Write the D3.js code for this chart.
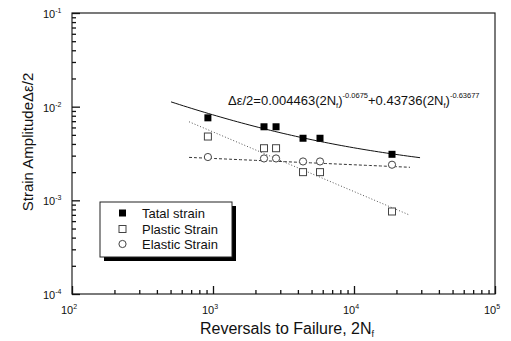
<!DOCTYPE html>
<html>
<head>
<meta charset="utf-8">
<script src="https://cdn.jsdelivr.net/npm/d3@7"></script>
<style>
  body { margin: 0; background: #fff; }
  svg { font-family: "Liberation Sans", Arial, sans-serif; }
</style>
</head>
<body>
<div id="chart"></div>
<script>
// data
var cycles  = [920, 2300, 2800, 4350, 5740, 18600];
var total   = [0.0076, 0.0061, 0.0061, 0.0046, 0.0046, 0.0031];
var plastic = [0.0048, 0.0036, 0.0036, 0.0020, 0.0020, 0.00076];
var elastic = [0.0029, 0.0028, 0.0028, 0.0026, 0.0026, 0.0024];

// fitted equation shown on chart: elastic + plastic parts
var fitCoef = [0.004463, 0.43736];
var fitExp  = [-0.0675, -0.63677];
var totalRange = [504, 29400];
var partRange  = [676, 24950];

var xTicks = [1e2, 1e3, 1e4, 1e5];
var yTicks = [1e-4, 1e-3, 1e-2, 1e-1];
var legendNames = ["Tatal strain", "Plastic Strain", "Elastic Strain"];

function plotChart() {

    var width = 511, height = 341;
    var pLeft = 72, pRight = 495, pTop = 13, pBottom = 294;

    var svg = d3.select("#chart").append("svg")
        .attr("width", width).attr("height", height);

    var x = d3.scaleLog().domain([1e2, 1e5]).range([pLeft, pRight]);
    var y = d3.scaleLog().domain([1e-4, 1e-1]).range([pBottom, pTop]);

    //////// FRAME ////////
    svg.append("rect")
        .attr("x", pLeft).attr("y", pTop)
        .attr("width", pRight - pLeft).attr("height", pBottom - pTop)
        .attr("fill", "none").attr("stroke", "#222").attr("stroke-width", 1.2);

    // minor + major ticks, pointing inward
    var xMinor = x.ticks().filter(function(d) { return xTicks.indexOf(d) < 0; });
    var yMinor = y.ticks().filter(function(d) { return yTicks.indexOf(d) < 0; });

    function noDomain(g) { g.select(".domain").remove(); }

    svg.append("g")
        .attr("transform", "translate(0," + pBottom + ")")
        .call(d3.axisBottom(x).tickValues(xMinor).tickSize(-4).tickFormat(""))
        .call(noDomain);
    svg.append("g")
        .attr("transform", "translate(0," + pBottom + ")")
        .call(d3.axisBottom(x).tickValues(xTicks).tickSize(-8).tickFormat(""))
        .call(noDomain);

    svg.append("g")
        .attr("transform", "translate(" + pLeft + ",0)")
        .call(d3.axisLeft(y).tickValues(yMinor).tickSize(-4).tickFormat(""))
        .call(noDomain);
    svg.append("g")
        .attr("transform", "translate(" + pLeft + ",0)")
        .call(d3.axisLeft(y).tickValues(yTicks).tickSize(-8).tickFormat(""))
        .call(noDomain);

    svg.selectAll(".tick line").attr("stroke", "#111").attr("stroke-width", 1.3);

    // tick labels, power of ten
    var xl = svg.append("g").selectAll("text").data(xTicks).enter().append("text")
        .attr("x", function(d) { return x(d) - 3; })
        .attr("y", 314)
        .attr("text-anchor", "middle")
        .attr("font-size", 11).attr("fill", "#111");
    xl.append("tspan").text("10");
    xl.append("tspan").attr("dy", -5).attr("font-size", 7)
        .text(function(d) { return Math.round(Math.log10(d)); });

    var yl = svg.append("g").selectAll("text").data(yTicks).enter().append("text")
        .attr("x", 43)
        .attr("y", function(d) { return y(d) + 5; })
        .attr("font-size", 11).attr("fill", "#111");
    yl.append("tspan").text("10");
    yl.append("tspan").attr("dy", -5).attr("font-size", 7)
        .text(function(d) { return "-" + Math.round(-Math.log10(d)); });

    // axis titles
    var xt = svg.append("text")
        .attr("x", 287).attr("y", 334)
        .attr("text-anchor", "middle")
        .attr("font-size", 16).attr("fill", "#111");
    xt.append("tspan").text("Reversals to Failure, 2N");
    xt.append("tspan").attr("dy", 3).attr("font-size", 9).text("f");

    svg.append("text")
        .attr("transform", "translate(33,142) rotate(-90)")
        .attr("text-anchor", "middle")
        .attr("font-size", 15).attr("fill", "#111")
        .text("Strain AmplitudeΔε/2");

    //////// FIT CURVES ////////
    function fitPoints(range, parts) {
        var pts = [];
        var a = Math.log10(range[0]), b = Math.log10(range[1]);
        for (var i = 0; i <= 60; i++) {
            var n = Math.pow(10, a + (b - a) * i / 60);
            var v = 0;
            parts.forEach(function(k) { v += fitCoef[k] * Math.pow(n, fitExp[k]); });
            pts.push([n, v]);
        }
        return pts;
    }

    var line = d3.line()
        .x(function(d) { return x(d[0]); })
        .y(function(d) { return y(d[1]); });

    svg.append("path").datum(fitPoints(totalRange, [0, 1]))
        .attr("d", line).attr("fill", "none")
        .attr("stroke", "#111").attr("stroke-width", 1);
    svg.append("path").datum(fitPoints(partRange, [1]))
        .attr("d", line).attr("fill", "none")
        .attr("stroke", "#555").attr("stroke-width", 1).attr("stroke-dasharray", "1,2");
    svg.append("path").datum(fitPoints(partRange, [0]))
        .attr("d", line).attr("fill", "none")
        .attr("stroke", "#333").attr("stroke-width", 1).attr("stroke-dasharray", "3,2");

    //////// POINTS ////////
    var ms = 7;
    svg.append("g").selectAll("rect").data(cycles).enter().append("rect")
        .attr("x", function(d) { return x(d) - ms / 2; })
        .attr("y", function(d, i) { return y(total[i]) - ms / 2; })
        .attr("width", ms).attr("height", ms)
        .attr("fill", "#000");

    svg.append("g").selectAll("rect").data(cycles).enter().append("rect")
        .attr("x", function(d) { return x(d) - ms / 2; })
        .attr("y", function(d, i) { return y(plastic[i]) - ms / 2; })
        .attr("width", ms).attr("height", ms)
        .attr("fill", "#fff").attr("stroke", "#444").attr("stroke-width", 1);

    svg.append("g").selectAll("circle").data(cycles).enter().append("circle")
        .attr("cx", function(d) { return x(d); })
        .attr("cy", function(d, i) { return y(elastic[i]); })
        .attr("r", 3.6)
        .attr("fill", "#fff").attr("stroke", "#444").attr("stroke-width", 1);

    //////// EQUATION ////////
    var eq = svg.append("text")
        .attr("x", 228).attr("y", 105)
        .attr("font-size", 13).attr("fill", "#111");
    eq.append("tspan").text("Δε/2=" + fitCoef[0] + "(2N");
    eq.append("tspan").attr("dy", 3).attr("font-size", 7.5).text("f");
    eq.append("tspan").attr("dy", -3).text(")");
    eq.append("tspan").attr("dy", -7).attr("font-size", 7.5).text(fitExp[0]);
    eq.append("tspan").attr("dy", 7).text("+" + fitCoef[1] + "(2N");
    eq.append("tspan").attr("dy", 3).attr("font-size", 7.5).text("f");
    eq.append("tspan").attr("dy", -3).text(")");
    eq.append("tspan").attr("dy", -7).attr("font-size", 7.5).text(fitExp[1]);

    //////// LEGEND ////////
    var lg = svg.append("g");
    lg.append("rect").attr("x", 104).attr("y", 206).attr("width", 132).attr("height", 55)
        .attr("fill", "#000");
    lg.append("rect").attr("x", 100).attr("y", 202).attr("width", 132).attr("height", 55)
        .attr("fill", "#fff").attr("stroke", "#222").attr("stroke-width", 1);

    var rowY = [213, 229, 244];
    lg.append("rect").attr("x", 119).attr("y", rowY[0] - 3.5).attr("width", 7).attr("height", 7)
        .attr("fill", "#000");
    lg.append("rect").attr("x", 119).attr("y", rowY[1] - 3.5).attr("width", 7).attr("height", 7)
        .attr("fill", "#fff").attr("stroke", "#444");
    lg.append("circle").attr("cx", 122.5).attr("cy", rowY[2]).attr("r", 3.6)
        .attr("fill", "#fff").attr("stroke", "#444");

    lg.selectAll("text.lab").data(legendNames).enter().append("text")
        .attr("x", 142)
        .attr("y", function(d, i) { return rowY[i] + 4.5; })
        .attr("font-size", 13).attr("fill", "#111")
        .text(function(d) { return d; });
}
plotChart();
</script>
</body>
</html>
